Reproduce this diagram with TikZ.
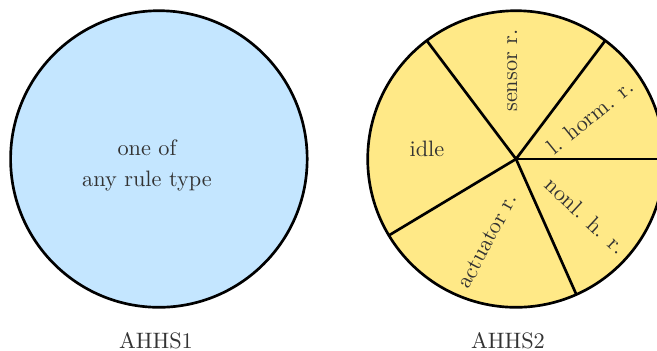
\documentclass[tikz,border=0pt]{standalone}
\usepackage{tikz}
\usetikzlibrary{calc, positioning}
\definecolor{ruleblue}{RGB}{196,230,255}
\definecolor{ruleyellow}{RGB}{255,233,135}
\tikzset{slicetext/.style={text=black!80, inner sep=1pt}}

\begin{document}
\begin{tikzpicture}

		%page size of the original figure
		\useasboundingbox (0,0) rectangle (10.354,5.516);
		\clip (0,0) rectangle (10.354,5.516);

		%AHHS1: a single slice
		\coordinate (c1) at (2.504,3.010);
		\filldraw[fill=ruleblue, very thick] (c1) circle (2.337);
		\node[slicetext, anchor=base] (oneof) at (2.317,3.073) {one of};
		\node[slicetext, anchor=base] (anyrule) at (2.317,2.569) {any rule type};
		\node[slicetext, anchor=base] (ahhs1) at (2.458,0.03) {AHHS1};

		%AHHS2: five slices
		\coordinate (c2) at (8.132,3.010);
		\filldraw[fill=ruleyellow, very thick] (c2) circle (2.337);
		\foreach \a in {127, 53, 0, -66, 211}
			\draw[very thick] (c2) -- ++(\a:2.337);

		\node[slicetext, rotate=90] (sensor) at ($(c2)+(-0.058,1.392)$) {sensor r.};
		\node[slicetext] (idle) at ($(c2)+(-1.403,0.158)$) {idle};
		\node[slicetext, rotate=39] (lhorm) at ($(c2)+(1.166,0.667)$) {l. horm. r.};
		\node[slicetext, rotate=-43] (nonl) at ($(c2)+(1.098,-0.893)$) {nonl. h. r.};
		\node[slicetext, rotate=62] (actuator) at ($(c2)+(-0.452,-1.288)$) {actuator r.};
		\node[slicetext, anchor=base] (ahhs2) at (8.006,0.03) {AHHS2};

	\end{tikzpicture}
\end{document}
